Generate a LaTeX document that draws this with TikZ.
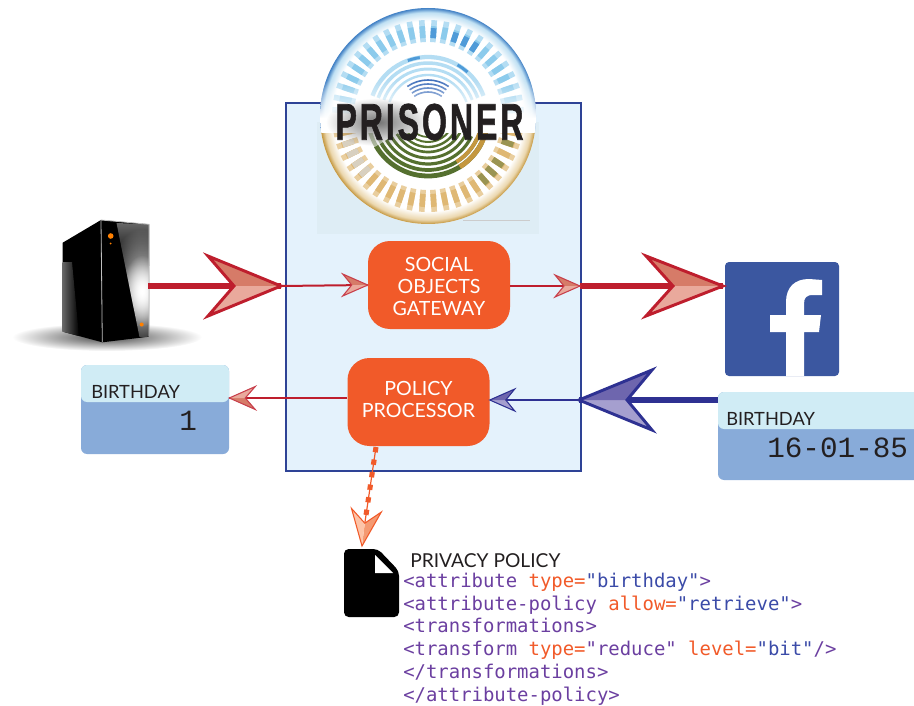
\documentclass[tikz,border=0pt]{standalone}
\usepackage{fontspec}
\usepackage{graphicx}
\usetikzlibrary{fadings,calc}
\newfontfamily\labfont{Lato}
\newfontfamily\monofont{DejaVu Sans Mono}
\newfontfamily\valfont{Liberation Mono}
\newfontfamily\logofont[BoldFeatures={FakeBold=1.5,LetterSpace=9}]{Liberation Sans}
\definecolor{redln}{HTML}{BE1E2D}
\definecolor{redD}{HTML}{D67B68}
\definecolor{redL}{HTML}{E9A99C}
\definecolor{bluln}{HTML}{2E3192}
\definecolor{bluD}{HTML}{A59FCF}
\definecolor{bluL}{HTML}{6E66AE}
\definecolor{orng}{HTML}{F15A29}
\definecolor{orgD}{HTML}{F49A72}
\definecolor{orgL}{HTML}{FDC4A8}
\definecolor{boxedge}{HTML}{2E4396}
\definecolor{boxfill}{HTML}{E4F2FC}
\definecolor{panel}{HTML}{DEEDF5}
\definecolor{cardtop}{HTML}{D0ECF5}
\definecolor{cardbody}{HTML}{88ABD9}
\definecolor{fbblue}{HTML}{3B57A0}
\definecolor{inkc}{HTML}{231F20}
\definecolor{tagc}{HTML}{6B3FA0}
\definecolor{valc}{HTML}{3B4BA8}
\definecolor{skyc}{HTML}{B4DDF3}
\definecolor{skym}{HTML}{8CCBEC}
\definecolor{skyd}{HTML}{4F9BD8}
\definecolor{tanc}{HTML}{E9CE9E}
\definecolor{tanm}{HTML}{DFB874}
\definecolor{rimb}{HTML}{3F7FC4}
\definecolor{rimbl}{HTML}{BFE0F3}
\definecolor{rimt}{HTML}{C4973F}
\definecolor{rimtl}{HTML}{EBD7AE}
\definecolor{olive}{HTML}{55702F}
\pgfdeclareradialshading{rimtop}{\pgfpoint{0cm}{0cm}}{color(0bp)=(white); color(22bp)=(white); color(24bp)=(rimbl); color(25bp)=(rimb); color(50bp)=(rimb)}
\pgfdeclareradialshading{rimbot}{\pgfpoint{0cm}{0cm}}{color(0bp)=(white); color(22bp)=(white); color(24bp)=(rimtl); color(25bp)=(rimt); color(50bp)=(rimt)}
\tikzfading[name=glow,inner color=transparent!0,outer color=transparent!100]
\newcommand{\arrowhd}[9]{%
  \begin{scope}[shift={(#1)},rotate=#2]
    \fill[#7] (0,0) -- (-#3,-#4) -- (-#5,0) -- cycle;
    \fill[#8] (0,0) -- (-#3,#4) -- (-#5,0) -- cycle;
    \draw[#6,line width=#9,line join=miter] (0,0) -- (-#3,-#4) -- (-#5,0) -- (-#3,#4) -- cycle;
  \end{scope}}
\newcommand{\tg}[1]{\textcolor{tagc}{#1}}
\newcommand{\attr}[1]{\textcolor{orng}{#1}}
\newcommand{\vl}[1]{\textcolor{valc}{#1}}
\newcommand{\boxtext}[2]{\raisebox{#1}[0pt][0pt]{\parbox{100pt}{\centering #2}}}
\tikzset{
  procbox/.style={fill=orng,rounded corners=16.5pt,minimum width=106.5pt,minimum height=66pt,inner sep=0pt,align=center,text=white,font=\labfont\fontsize{14.7}{16.5}\selectfont},
  cardlabel/.style={anchor=base west,inner sep=0pt,text=inkc,font=\labfont\fontsize{13.7}{16}\selectfont},
  titlelabel/.style={anchor=base west,inner sep=0pt,text=inkc,font=\labfont\fontsize{14.4}{16}\selectfont},
  cardvalue/.style={anchor=base west,inner sep=0pt,text=inkc,font=\valfont\fontsize{22}{24}\selectfont},
  codeline/.style={anchor=base west,inner sep=0pt,font=\monofont\fontsize{14.2}{16}\selectfont},
  thickred/.style={redln,line width=4.5pt},
  thickblue/.style={bluln,line width=4.5pt},
  thinred/.style={redln,line width=1.5pt},
  thinblue/.style={bluln,line width=1.5pt},
  logotick/.style={line width=4.2pt}
}
\begin{document}
\begin{tikzpicture}[x=0.75pt,y=-0.75pt]
\useasboundingbox (0,0) rectangle (914,706);

% main container
\node[draw=boxedge,fill=boxfill,line width=1.5pt,minimum width=221.25pt,minimum height=276pt,inner sep=0pt] (core) at (433.5,287) {};
\fill[panel] (317,122) rectangle (539,234);
\draw[black!20,line width=0.5pt] (463,220) -- (530,220);

% logo
\coordinate (logo) at (428,116);
\begin{scope}
  \clip (logo) circle (108);
  \fill[white] (logo) circle (108);
  \begin{scope}
    \clip (300,0) rectangle (560,133);
    \shade[shading=rimtop] (logo) circle (108);
  \end{scope}
  \begin{scope}
    \clip (300,133) rectangle (560,240);
    \shade[shading=rimbot] (logo) circle (108);
  \end{scope}
  \begin{scope}[shift={(logo)}]
    \foreach \a in {183.75,191.25,...,356.25}{
      \draw[logotick,skyc] (\a:74) -- (\a:96);
      \draw[logotick,skym] (\a:78) -- (\a:90);
    }
    \foreach \a in {288.75,296.25,303.75,273.75}
      \draw[logotick,skyd] (\a:78) -- (\a:88);
    \foreach \a in {11.25,18.75,...,168.75}{
      \draw[logotick,tanc] (\a:74) -- (\a:96);
      \draw[logotick,tanm] (\a:78) -- (\a:91);
    }
    \foreach \a in {33.75,41.25,48.75,18.75}
      \draw[logotick,olive!50!tanm] (\a:78) -- (\a:90);
    \foreach \a in {138.75,146.25,153.75,161.25}
      \draw[logotick,tanm!65!black!35!white] (\a:78) -- (\a:90);
    % inner target
    \foreach \r/\w in {59/3.2,53/2.6,47/2.2,41/1.8}
      \draw[skyc,line width=\w pt] (200:\r) arc[start angle=200,end angle=340,radius=\r];
    \foreach \a in {250,300}
      \draw[skyd,line width=2.2pt] (\a:59) arc[start angle=\a,end angle=\a+12,radius=59];
    \foreach \r in {36,32,28,24}
      \draw[skyd!60!bluln,line width=1.2pt] (235:\r) arc[start angle=235,end angle=305,radius=\r];
    \foreach \r/\w in {60/3.6,54/2.8,48/2.4,42/2.2,36/2,31/1.8,26/1.5,21/1.3}
      \draw[olive,line width=\w pt] (25:\r) arc[start angle=25,end angle=150,radius=\r];
    \foreach \r/\w in {60/3.6,54/2.8}
      \draw[rimt,line width=\w pt] (10:\r) arc[start angle=10,end angle=58,radius=\r];
    \foreach \r/\w in {60/3,54/2.4}
      \draw[olive!45!white,line width=\w pt] (150:\r) arc[start angle=150,end angle=170,radius=\r];
  \end{scope}
  % horizon band
  \fill[white,path fading=north] (300,80) rectangle (560,118);
  \fill[white] (300,118) rectangle (560,133);
  \fill[black!55,path fading=glow] (378,122) ellipse (52 and 24);
\end{scope}
\node[inner sep=0pt,text=inkc] (logotext) at (429.5,122) {\resizebox{141pt}{27pt}{\logofont\bfseries PRISONER}};

% process nodes
\node[procbox] (gate) at (439,285) {\boxtext{-4.5pt}{SOCIAL\\OBJECTS\\GATEWAY}};
\node[procbox] (policy) at (418.5,402) {\boxtext{-1.5pt}{POLICY\\PROCESSOR}};

% server
\shade[inner color=black!72,outer color=white] (107,337) ellipse (95 and 14);
\fill[black] (62.7,242.7) -- (101,220) -- (102.3,342.3) -- (62.7,331.7) -- cycle;
\shade[left color=black!60,right color=black] (62.7,262) -- (72,262) -- (79,336) -- (62.7,331.7) -- cycle;
\fill[black] (101,220) -- (149,224.3) -- (149,336.7) -- (102.3,342.3) -- cycle;
\begin{scope}
  \clip (116.5,223) -- (149,224.3) -- (149,336.7) -- (139.5,337) -- cycle;
  \shade[top color=black!60,bottom color=black] (110,223) rectangle (150,265);
  \fill[white,path fading=glow] (142,291) ellipse (36 and 62);
  \fill[white,path fading=glow] (142,291) ellipse (20 and 36);
\end{scope}
\draw[black!25,line width=0.6pt] (102.3,342) -- (101,220) -- (149,224.3) -- (149,336.7);
\fill[orange] (110.7,236) circle (2.8);
\fill[orange] (110.7,243.5) circle (1);
\fill[orange] (141.7,324.5) circle (2);
\coordinate (srv) at (148,286);

% facebook
\node[fill=fbblue,rounded corners=3pt,minimum size=85.5pt,inner sep=0pt] (fb) at (782,319) {};
\fill[white] (786,376) -- (786,332) -- (770,332) -- (770,315) -- (786,315) -- (786,302)
  .. controls (786,287) and (795,279) .. (809,279) -- (822,280) -- (822,295) -- (813,295)
  .. controls (806,295) and (804,298) .. (804,304) -- (804,315) -- (821,315) -- (819,332) -- (804,332) -- (804,376) -- cycle;

% left card
\node[fill=cardbody,rounded corners=4.5pt,minimum width=111pt,minimum height=66.75pt,inner sep=0pt] (cardL) at (155,409.5) {};
\fill[cardtop,rounded corners=4.5pt] (81,365) rectangle (229,402);
\node[cardlabel] (cardLlab) at (91,398) {BIRTHDAY};
\node[cardvalue] (cardLval) at (179,430.5) {1};

% right card
\fill[cardbody,rounded corners=4.5pt] (718,392) rectangle (930,480);
\fill[cardtop,rounded corners=4.5pt] (718,392) rectangle (930,429);
\coordinate (cardR) at (718,400);
\node[cardlabel] (cardRlab) at (726,425) {BIRTHDAY};
\node[cardvalue] (cardRval) at (767,457) {16-01-85};

% connectors
\coordinate (tipA) at (281,286);
\coordinate (tipB) at (723,286);
\coordinate (tipC) at (579,400);
\draw[thickred] (srv) -- (tipA);
\arrowhd{tipA}{0}{73}{30}{47}{redln}{redD}{redL}{2.2pt}
\coordinate (gw) at (gate.west);
\draw[thinred] (tipA) -- (gw);
\arrowhd{gw}{0}{25}{11}{16}{redln!85!white}{redD}{redL}{0.8pt}
\coordinate (outA) at (580,286);
\draw[thinred] (gate.east |- outA) -- (outA);
\draw[thickred] (outA) -- (tipB);
\arrowhd{outA}{0}{25}{11}{16}{redln!85!white}{redD}{redL}{0.8pt}
\arrowhd{tipB}{0}{77}{30}{50}{redln}{redD}{redL}{2.2pt}
\draw[thickblue] (cardR) -- (tipC);
\arrowhd{tipC}{180}{73}{30}{48}{bluln}{bluD}{bluL}{2.2pt}
\coordinate (pe) at (policy.east |- tipC);
\draw[thinblue] (tipC) -- (pe);
\arrowhd{pe}{180}{25}{11}{16}{bluln}{bluD}{bluL}{0.8pt}
\coordinate (pw) at (policy.west |- 0,398);
\coordinate (cl) at (cardL.east |- pw);
\draw[thinred] (pw) -- (cl);
\arrowhd{cl}{180}{26}{11.5}{16}{redln!85!white}{redD}{redL}{0.8pt}

% policy document connector
\coordinate (pol1) at (376,447);
\coordinate (pol2) at (365,522);
\coordinate (pol3) at (362,546);
\draw[orng,line width=0.9pt] (pol1) -- (pol2);
\draw[orng,line width=3.8pt,dash pattern=on 4pt off 5.5pt] (pol1) -- (pol2);
\arrowhd{pol3}{-97}{36}{15}{23}{orng}{orgD}{orgL}{0.8pt}

% document icon
\fill[black,rounded corners=3.5pt] (344,549) -- (378,549) -- (399,571) -- (399,617) -- (344,617) -- cycle;
\fill[white] (375,555) -- (393,573) -- (375,573) -- cycle;

% policy text
\node[titlelabel] (ptitle) at (410,567) {PRIVACY POLICY};
\node[codeline] (c1) at (403,587) {\tg{<attribute} \attr{type=}\vl{"birthday"}\tg{>}};
\node[codeline] (c2) at (403,610) {\tg{<attribute-policy} \attr{allow=}\vl{"retrieve"}\tg{>}};
\node[codeline] (c3) at (403,632) {\tg{<transformations>}};
\node[codeline] (c4) at (403,655) {\tg{<transform} \attr{type=}\tg{"reduce"} \attr{level=}\vl{"bit"}\tg{/>}};
\node[codeline] (c5) at (403,678) {\tg{</transformations>}};
\node[codeline] (c6) at (403,701) {\tg{</attribute-policy>}};
\end{tikzpicture}
\end{document}
